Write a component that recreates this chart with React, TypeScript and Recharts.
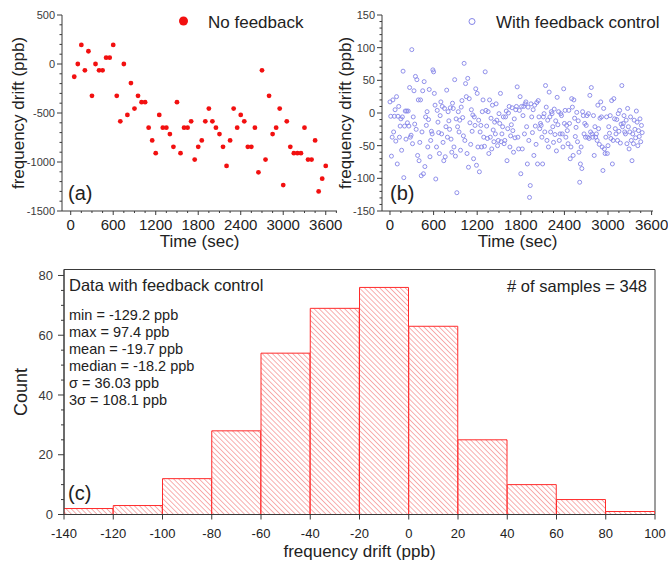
import React from "react";
import {
  ScatterChart,
  Scatter,
  BarChart,
  Bar,
  XAxis,
  YAxis,
  ReferenceArea,
} from "recharts";

const FONT = '"Liberation Sans", Arial, Helvetica, sans-serif';
const INK = "#222";
const AXIS = "#3a3a3a";
const RED = "#f21010";
const BLUE = "#8585e8";
const BAR_RED = "#ff2b2b";

// (a) no feedback: one reading every 50 s
const timeA = [
  50, 100, 150, 200, 250, 300, 350, 400, 450, 500, 550, 600, 650, 700, 750, 800,
  850, 900, 950, 1000, 1050, 1100, 1150, 1200, 1250, 1300, 1350, 1400, 1450,
  1500, 1550, 1600, 1650, 1700, 1750, 1800, 1850, 1900, 1950, 2000, 2050, 2100,
  2150, 2200, 2250, 2300, 2350, 2400, 2450, 2500, 2550, 2600, 2650, 2700, 2750,
  2800, 2850, 2900, 2950, 3000, 3050, 3100, 3150, 3200, 3250, 3300, 3350, 3400,
  3450, 3500, 3550, 3600,
];
const driftA = [
  -130, 0, 195, -65, 130, -325, 0, -65, -65, 65,
  65, 195, -325, -585, 0, -520, -195, -455, -325, -390,
  -390, -650, -780, -910, -520, -650, -650, -715, -845, -390,
  -910, -650, -650, -585, -975, -845, -780, -585, -455, -585,
  -650, -715, -845, -1040, -780, -455, -650, -520, -585, -845,
  -845, -650, -1105, -65, -975, -325, -715, -650, -455, -1235,
  -585, -845, -910, -910, -910, -650, -975, -975, -780, -1300,
  -1170, -1040,
];

// (b) with feedback control: 348 readings, ~10 s apart
const timeB = [
  0, 10, 20, 30, 40, 50, 60, 70, 80, 90, 100, 110, 120, 130, 140, 150, 160, 170, 180, 190, 200, 210, 220, 230, 240, 250, 260, 270, 280,
  290, 300, 310, 320, 330, 340, 350, 360, 370, 380, 390, 400, 410, 420, 430, 440, 450, 460, 470, 480, 490, 500, 510, 520, 530, 540, 550, 560, 570,
  580, 590, 600, 610, 620, 630, 640, 650, 660, 670, 680, 690, 700, 710, 720, 730, 740, 750, 760, 770, 780, 790, 800, 810, 820, 830, 840, 850, 860,
  870, 880, 890, 900, 910, 920, 930, 940, 950, 960, 970, 980, 990, 1000, 1010, 1020, 1030, 1040, 1050, 1060, 1070, 1080, 1090, 1100, 1110, 1120, 1130, 1140, 1150,
  1160, 1170, 1180, 1190, 1200, 1210, 1220, 1230, 1240, 1250, 1260, 1270, 1280, 1290, 1300, 1310, 1320, 1330, 1340, 1350, 1360, 1370, 1380, 1390, 1400, 1410, 1420, 1430, 1440,
  1450, 1460, 1470, 1480, 1490, 1500, 1510, 1520, 1530, 1540, 1550, 1560, 1570, 1580, 1590, 1600, 1610, 1620, 1630, 1640, 1650, 1660, 1670, 1680, 1690, 1700, 1710, 1720, 1730,
  1740, 1750, 1760, 1770, 1780, 1790, 1800, 1810, 1820, 1830, 1840, 1850, 1860, 1870, 1880, 1890, 1900, 1910, 1920, 1930, 1940, 1950, 1960, 1970, 1980, 1990, 2000, 2010, 2020,
  2030, 2040, 2050, 2060, 2070, 2080, 2090, 2100, 2110, 2120, 2130, 2140, 2150, 2160, 2170, 2180, 2190, 2200, 2210, 2220, 2230, 2240, 2250, 2260, 2270, 2280, 2290, 2300, 2310,
  2320, 2330, 2340, 2350, 2360, 2370, 2380, 2390, 2400, 2410, 2420, 2430, 2440, 2450, 2460, 2470, 2480, 2490, 2500, 2510, 2520, 2530, 2540, 2550, 2560, 2570, 2580, 2590, 2600,
  2610, 2620, 2630, 2640, 2650, 2660, 2670, 2680, 2690, 2700, 2710, 2720, 2730, 2740, 2750, 2760, 2770, 2780, 2790, 2800, 2810, 2820, 2830, 2840, 2850, 2860, 2870, 2880, 2890,
  2900, 2910, 2920, 2930, 2940, 2950, 2960, 2970, 2980, 2990, 3000, 3010, 3020, 3030, 3040, 3050, 3060, 3070, 3080, 3090, 3100, 3110, 3120, 3130, 3140, 3150, 3160, 3170, 3180,
  3190, 3200, 3210, 3220, 3230, 3240, 3250, 3260, 3270, 3280, 3290, 3300, 3310, 3320, 3330, 3340, 3350, 3360, 3370, 3380, 3390, 3400, 3410, 3420, 3430, 3440, 3450, 3460, 3470,
];
const driftB = [
  17, -5, -66, -37, 20, -29, -5, 5, -43, 25, -78, -5, 10, -37, -20, -9, -57, -6, 64, -99, -20, 3, -40, 3, -15, 3, -20, 39, -37,
  -34, 97, -47, -6, 34, -17, 56, -25, 51, -65, 20, -73, -45, 20, -96, -29, 34, -93, 48, -82, -6, -19, 2, -52, -10, 36, -67, -42, -28,
  -32, 66, 63, 30, 12, -101, -52, 4, -14, -30, -62, -4, 17, -32, 10, -45, -73, 7, -67, -21, 35, -37, 2, -12, -25, 8, -40, -60, 15,
  7, -52, 51, -66, -9, -122, -21, 2, -29, -11, -57, 9, 19, -7, -35, 76, -42, 45, 25, -62, 53, -83, 22, -15, -48, 5, -28, -3, -70,
  -6, -19, 37, -80, 30, -52, -11, -90, -29, -19, -52, 2, 20, -37, -51, 63, 4, -20, -39, 2, -62, 20, -37, -8, -55, 12, -26, -44, -14,
  -32, 14, -11, -50, -42, -1, -16, 30, -44, -32, -21, -6, -47, -42, -6, 3, -73, -24, 0, 10, -52, -35, -18, 8, -27, -60, -9, -38, 5,
  10, 40, -37, -55, 4, 25, -93, 10, -55, -4, 10, -32, 14, 17, -21, -78, 9, -42, -129.2, -111, 14, -6, -30, 5, -65, 12, -20, -48, 16,
  -78, 19, -6, -24, -16, -19, -37, -78, -6, -1, -29, 42, 9, -42, -11, -52, 32, -6, -29, 2, -1, -21, -45, 6, -33, -12, -58, 24, -18,
  2, -42, -32, -1, -4, -32, -52, 37, -16, 4, -37, -19, -27, -47, 4, -16, -70, -52, 22, 9, -65, 20, -8, -36, -22, 1, -44, -12, -60,
  -106, -78, -52, -85, 2, -4, -32, -16, -37, -19, -4, -37, -1, -39, 27, -29, 39, -32, -37, -4, -65, -21, -37, -32, -42, 12, -24, -48, -8,
  17, -6, -52, -88, 7, -55, -62, -37, -6, -62, -50, -21, -31, -4, -39, 19, -78, -42, 22, -9, -24, -32, -10, -42, -1, -28, 4, -46, -17,
  42, -21, -16, -4, -29, -32, -11, -47, 7, -21, -55, -29, -6, -42, -73, -32, -47, -11, -25, -38, 3, -14, -50, -27, -36, -9, -44, -19, -30,
];

// (c) histogram of (b): bin centres (20 ppb wide) and counts
const binMid = [-130, -110, -90, -70, -50, -30, -10, 10, 30, 50, 70, 90];
const binCount = [2, 3, 12, 28, 54, 69, 76, 63, 25, 10, 5, 1];
const statLines = [
  "min = -129.2 ppb",
  "max = 97.4 ppb",
  "mean = -19.7 ppb",
  "median = -18.2 ppb",
  "\u03c3 = 36.03 ppb",
  "3\u03c3 = 108.1 ppb",
];

// tick labels
const timeTicks = [0, 600, 1200, 1800, 2400, 3000, 3600];
const driftTicksA = [-1500, -1000, -500, 0, 500];
const driftTicksB = [-150, -100, -50, 0, 50, 100, 150];
const edgeTicks = [-140, -120, -100, -80, -60, -40, -20, 0, 20, 40, 60, 80, 100];
const countTicks = [0, 20, 40, 60, 80];

const dataA = timeA.map((t, i) => ({ t, v: driftA[i] }));
const dataB = timeB.map((t, i) => ({ t, v: driftB[i] }));
const histData = binMid.map((m, i) => ({ mid: m, count: binCount[i] }));

// minor tick positions, only for drawing small marks
function steps(from: number, to: number, step: number) {
  const out: number[] = [];
  for (let v = from; v <= to; v += step) out.push(v);
  return out;
}

function yTick(major: number[], len: number, gap: number, fs: number) {
  return (p: any) => {
    const isMajor = major.includes(p.payload.value);
    return (
      <g>
        <line x1={p.x} x2={p.x - (isMajor ? len : len / 2)} y1={p.y} y2={p.y} stroke={AXIS} />
        {isMajor && (
          <text x={p.x - gap} y={p.y} dy="0.36em" textAnchor="end" fontSize={fs} fill={AXIS} fontFamily={FONT}>
            {p.payload.value}
          </text>
        )}
      </g>
    );
  };
}

function xTick(major: number[], len: number, base: number, fs: number) {
  return (p: any) => {
    const isMajor = major.includes(p.payload.value);
    return (
      <g>
        <line x1={p.x} x2={p.x} y1={p.y} y2={p.y + (isMajor ? len : len / 2)} stroke={AXIS} />
        {isMajor && (
          <text x={p.x} y={p.y + base} textAnchor="middle" fontSize={fs} fill={INK} fontFamily={FONT}>
            {p.payload.value}
          </text>
        )}
      </g>
    );
  };
}

const titleStyle = (fs: number) => ({ textAnchor: "middle" as const, fontSize: fs, fill: INK, fontFamily: FONT });

export default function App() {
  return (
    <div style={{ position: "absolute", left: 0, top: 0, width: 668, height: 565, background: "#fff", overflow: "hidden" }}>
      <div style={{ position: "absolute", left: 0, top: 0 }}>
        <ScatterChart width={350} height={250} margin={{ top: 15, right: 13, bottom: 0, left: 0 }}>
          <XAxis
            type="number"
            dataKey="t"
            domain={[-123, 3759]}
            allowDataOverflow
            ticks={steps(0, 3750, 150)}
            interval={0}
            tickSize={0}
            tickMargin={0}
            tickLine={false}
            tick={xTick(timeTicks, 4, 19, 15)}
            axisLine={{ stroke: AXIS }}
            height={39}
            label={{ value: "Time (sec)", position: "insideBottom", offset: 3, style: titleStyle(17) }}
          />
          <YAxis
            type="number"
            dataKey="v"
            domain={[-1500, 500]}
            allowDataOverflow
            ticks={steps(-1500, 500, 100)}
            interval={0}
            tickSize={0}
            tickMargin={0}
            tickLine={false}
            tick={yTick(driftTicksA, 5, 7, 11)}
            axisLine={{ stroke: AXIS }}
            width={62}
            label={{ value: "frequency drift (ppb)", angle: -90, position: "insideLeft", offset: 17.5, style: titleStyle(17) }}
          />
          <Scatter
            data={dataA}
            isAnimationActive={false}
            shape={(p: any) => <circle cx={p.cx} cy={p.cy} r={2.4} fill={RED} />}
          />
        </ScatterChart>
      </div>

      <div style={{ position: "absolute", left: 334, top: 0 }}>
        <ScatterChart width={340} height={250} margin={{ top: 15, right: 21, bottom: 0, left: 0 }}>
          <XAxis
            type="number"
            dataKey="t"
            domain={[-110, 3619]}
            allowDataOverflow
            ticks={steps(0, 3600, 150)}
            interval={0}
            tickSize={0}
            tickMargin={0}
            tickLine={false}
            tick={xTick(timeTicks, 4, 19, 15)}
            axisLine={{ stroke: AXIS }}
            height={39}
            label={{ value: "Time (sec)", position: "insideBottom", offset: 3, style: titleStyle(17) }}
          />
          <YAxis
            type="number"
            dataKey="v"
            domain={[-150, 150]}
            allowDataOverflow
            ticks={steps(-150, 150, 10)}
            interval={0}
            tickSize={0}
            tickMargin={0}
            tickLine={false}
            tick={yTick(driftTicksB, 5, 7, 11)}
            axisLine={{ stroke: AXIS }}
            width={48}
            label={{ value: "frequency drift (ppb)", angle: -90, position: "insideLeft", offset: 11, style: titleStyle(17) }}
          />
          <Scatter
            data={dataB}
            isAnimationActive={false}
            shape={(p: any) => <circle cx={p.cx} cy={p.cy} r={2} fill="none" stroke={BLUE} strokeWidth={0.9} />}
          />
        </ScatterChart>
      </div>

      <div style={{ position: "absolute", left: 0, top: 255 }}>
        <BarChart
          width={668}
          height={310}
          data={histData}
          margin={{ top: 14.5, right: 13, bottom: 0, left: 0 }}
          barCategoryGap={0}
          barGap={0}
        >
          <defs>
            <pattern id="hatch" patternUnits="userSpaceOnUse" width={3.6} height={3.6} patternTransform="rotate(-45)">
              <rect width={3.6} height={3.6} fill="#fff" />
              <line x1={0} y1={0} x2={0} y2={3.6} stroke="#f05050" strokeWidth={0.9} />
            </pattern>
          </defs>
          <XAxis
            type="number"
            dataKey="mid"
            domain={[-140, 100]}
            allowDataOverflow
            ticks={edgeTicks}
            interval={0}
            tickSize={0}
            tickMargin={0}
            tickLine={false}
            tick={xTick(edgeTicks, 5, 23, 13)}
            axisLine={{ stroke: AXIS }}
            height={50.5}
            label={{ value: "frequency drift (ppb)", position: "insideBottom", offset: 8, style: titleStyle(17) }}
          />
          <YAxis
            type="number"
            domain={[0, 82]}
            allowDataOverflow
            ticks={steps(0, 80, 5)}
            interval={0}
            tickSize={0}
            tickMargin={0}
            tickLine={false}
            tick={yTick(countTicks, 6, 11, 13)}
            axisLine={{ stroke: AXIS }}
            width={64}
            label={{ value: "Count", angle: -90, position: "insideLeft", offset: 20.5, style: titleStyle(18) }}
          />
          <ReferenceArea x1={-140} x2={100} y1={0} y2={82} fill="none" fillOpacity={0} stroke={AXIS} strokeOpacity={1} />
          <Bar dataKey="count" fill="url(#hatch)" stroke={BAR_RED} strokeWidth={1} isAnimationActive={false} />
        </BarChart>
      </div>

      <svg
        width={668}
        height={565}
        style={{ position: "absolute", left: 0, top: 0, pointerEvents: "none" }}
        fontFamily={FONT}
        fill={INK}
      >
        <circle cx={183.5} cy={21} r={4.5} fill={RED} />
        <text x={208} y={27.5} fontSize={17}>No feedback</text>
        <circle cx={472} cy={21.5} r={3} fill="none" stroke={BLUE} strokeWidth={1} />
        <text x={496} y={28} fontSize={17}>With feedback control</text>

        <text x={68} y={200} fontSize={20}>(a)</text>
        <text x={390} y={200} fontSize={20}>(b)</text>
        <text x={68} y={500} fontSize={20}>(c)</text>

        <text x={69} y={291} fontSize={16.5}>Data with feedback control</text>
        <text x={647} y={292} fontSize={16.5} textAnchor="end"># of samples = 348</text>
        {statLines.map((s, i) => (
          <text key={s} x={69} y={320 + i * 17} fontSize={14.5}>{s}</text>
        ))}
      </svg>
    </div>
  );
}
